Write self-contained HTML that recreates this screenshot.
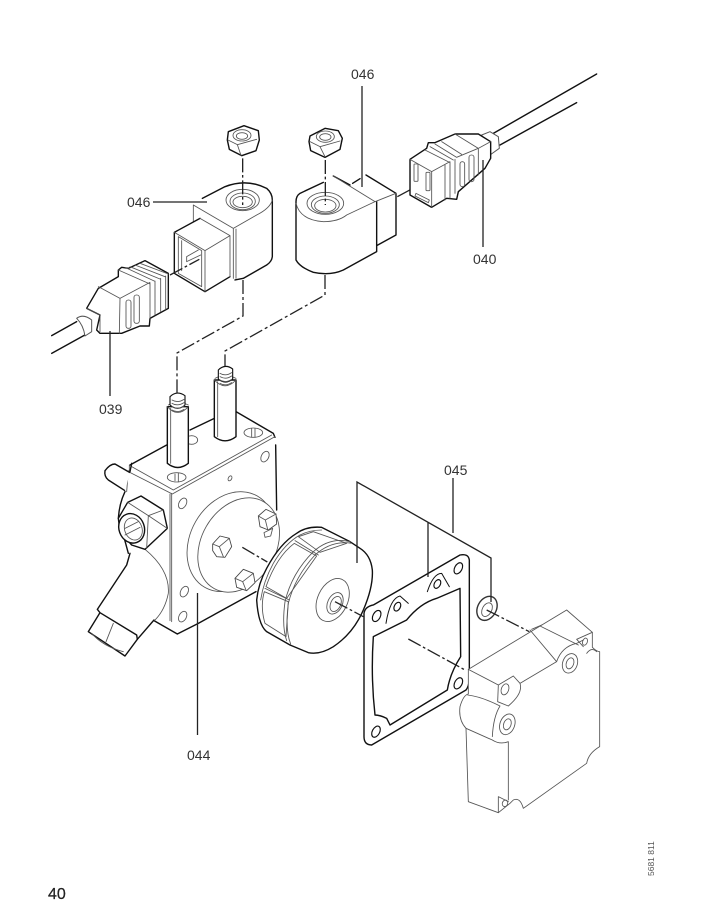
<!DOCTYPE html>
<html><head><meta charset="utf-8">
<style>
html,body{margin:0;padding:0;background:#fff;width:705px;height:913px;overflow:hidden}
svg{display:block}
.art{filter:blur(.25px)}
.k{fill:none;stroke:#111;stroke-width:4.2;stroke-linejoin:round;stroke-linecap:round}
.w{fill:#fff;stroke:#111;stroke-width:4.2;stroke-linejoin:round}
.t{fill:none;stroke:#555;stroke-width:2.6;stroke-linejoin:round;stroke-linecap:round}
.tw{fill:#fff;stroke:#555;stroke-width:2.6;stroke-linejoin:round}
.n{fill:#fff;stroke:none}
.l{fill:none;stroke:#222;stroke-width:1.3}
.a{fill:none;stroke:#222;stroke-width:1.3;stroke-dasharray:14 3 3 3}
.z{fill:none;stroke:#222;stroke-width:4;stroke-dasharray:42 8 8 8}
text{font-family:"Liberation Sans",sans-serif;font-size:14px;fill:#333}
</style></head><body>
<svg width="705" height="913" viewBox="0 0 705 913" xmlns="http://www.w3.org/2000/svg">
<g class="art">
<!-- LEFT SOLENOID -->
<g transform="translate(40 60) scale(.33333)">
<path class="w" d="M565 215L612 197L655 212L658 240L648 272L605 287L568 268L562 240Z"/>
<ellipse class="t" cx="606" cy="226" rx="27" ry="17"/><ellipse class="t" cx="606" cy="228" rx="17" ry="10"/>
<path class="t" d="M564 240L592 254L650 238M592 254L603 286"/>
<path class="n" d="M460 435L555 380Q620 355 680 385Q697 400 697 420V590L680 615L590 660L403 640V517L460 490Z"/>
<path class="k" d="M487 415L555 380Q620 355 680 385Q697 400 697 420V590Q695 605 680 615L610 655L585 660"/>
<path class="t" d="M460 435V490M460 435L580 505V655M588 507V655M580 505L650 465Q690 445 697 420"/>
<ellipse class="t" cx="608" cy="420" rx="50" ry="32"/><ellipse class="t" cx="608" cy="424" rx="38" ry="25"/><ellipse class="t" cx="608" cy="426" rx="29" ry="17"/>
<path class="n" d="M403 517L480 475L570 527V650L495 695L403 640Z"/>
<path class="k" d="M403 640V517L480 475M403 640L495 695L570 650"/>
<path class="t" d="M403 517L495 572V695M495 572L570 527M480 475L570 527V650M415 530L485 572V680L415 640ZM425 542V632"/>
<path class="t" d="M440 590L475 570M440 605L482 585M440 590V605"/>
<path class="z" d="M608 295V435"/>
<path class="z" d="M390 645L478 598"/>
</g>
<!-- LEFT PLUG -->
<g transform="translate(50 250) scale(.33333)">
<path class="k" d="M5 257L80 215M5 310L110 252"/>
<path class="w" style="stroke:#555;stroke-width:3" d="M80 205Q100 190 125 210V245L105 258Q100 225 80 205Z"/>
<path class="w" d="M110 175L145 115L205 80V60L215 52L235 55L285 32L355 70V175L300 205L298 228H270L215 250H150L140 240L150 195Z"/>
<path class="t" d="M145 110L210 145L208 250M110 175L150 195V245M210 145L300 97M205 60L300 102M225 52L315 94M240 50L330 87M255 45L345 80M270 40L355 72M300 100V205M315 93V195M332 85V185M347 78V178"/>
<rect class="t" x="228" y="150" width="15" height="85" rx="7"/><rect class="t" x="252" y="135" width="16" height="85" rx="7"/>
</g>
<!-- RIGHT SOLENOID -->
<g transform="translate(280 60) scale(.33333)">
<path class="w" d="M90 228L135 205L175 212L187 235L180 268L135 292L92 272L87 245Z"/>
<ellipse class="t" cx="136" cy="230" rx="27" ry="17"/><ellipse class="t" cx="136" cy="231" rx="17" ry="10"/>
<path class="t" d="M90 245L120 260L180 243M120 260L135 290"/>
<path class="n" d="M48 420L160 348L210 375L258 345L348 400V525L290 575L190 630Q100 660 48 600Z"/>
<path class="k" d="M130 367L60 400Q48 408 48 425V600Q60 622 100 637Q150 648 190 630L290 575V425M160 348L210 375M218 370L240 356M258 345L348 400V525L290 557"/>
<path class="t" d="M160 348L285 425L348 400M48 430Q60 480 130 485Q175 485 200 465L285 425"/>
<ellipse class="t" cx="136" cy="430" rx="55" ry="33"/><ellipse class="t" cx="136" cy="434" rx="42" ry="26"/><ellipse class="t" cx="136" cy="437" rx="32" ry="19"/>
<path class="z" d="M136 300V435"/>
<path class="z" d="M352 410L430 368"/>
</g>
<!-- RIGHT PLUG -->
<g transform="translate(400 120) scale(.33333)">
<path class="k" d="M280 40L590 -138M300 75L530 -52"/>
<path class="w" style="stroke:#555;stroke-width:3" d="M245 45L270 35L295 50L298 85L270 105Z"/>
<path class="w" d="M30 118L80 85L85 68H105L165 42H235L272 65V115L255 145L175 215L170 238L140 235L95 262L30 225Z"/>
<path class="t" d="M30 118L95 155V262M95 155L150 125M75 90L150 128M90 80L160 120M105 72L170 112M125 65L185 103M165 42L235 85V165M235 85L272 65M170 112L235 85M150 125V235M135 135V240M165 118V220"/>
<rect class="t" x="42" y="132" width="12" height="52" rx="2"/><rect class="t" x="78" y="157" width="12" height="55" rx="2"/>
<path class="t" d="M48 220L88 240L85 248L45 228Z"/>
<rect class="t" x="180" y="125" width="14" height="75" rx="7"/><rect class="t" x="207" y="105" width="15" height="80" rx="7"/>
</g>
<!-- PUMP -->
<g transform="translate(80 350) scale(.33333)">
<path class="n" d="M150 345L468 185L585 255L590 480L355 820L292 852L222 812L140 425Z"/>
<path class="k" d="M150 345L260 285M330 240L403 205M468 185L580 250L585 262M587 285L590 480M355 820L528 725M222 812L292 852L355 820"/>
<path class="t" d="M145 365L277 432L585 260M155 350L280 420L575 255M275 430V815M145 362L140 425M148 345V365M270 432V812"/>
<ellipse class="t" cx="290" cy="382" rx="28" ry="14"/><path class="t" d="M285 372V392M295 370V394"/>
<ellipse class="t" cx="335" cy="270" rx="18" ry="13"/>
<ellipse class="t" cx="520" cy="248" rx="28" ry="14"/><path class="t" d="M515 236V260M525 236V260"/>
<ellipse class="t" cx="555" cy="320" rx="11" ry="17" transform="rotate(28 555 320)"/>
<ellipse class="t" cx="308" cy="460" rx="11" ry="17" transform="rotate(28 308 460)"/>
<ellipse class="t" cx="450" cy="385" rx="5" ry="8" transform="rotate(28 450 385)"/>
<ellipse class="t" cx="313" cy="725" rx="11" ry="17" transform="rotate(28 313 725)"/>
<ellipse class="t" cx="308" cy="800" rx="11" ry="17" transform="rotate(28 308 800)"/>
<ellipse class="tw" cx="453" cy="575" rx="122" ry="158" transform="rotate(30 453 575)"/>
<ellipse class="tw" cx="476" cy="585" rx="112" ry="150" transform="rotate(30 476 585)"/>
<path class="tw" style="stroke:#444" d="M398 582L420 558L448 565L455 590L435 622L410 620L398 602Z"/>
<path class="t" d="M398 582L418 590L448 565M418 590L430 620"/>
<path class="tw" style="stroke:#444" d="M535 498L558 478L588 492L590 522L565 540L540 530Z"/>
<path class="t" d="M535 498L556 510L588 492M556 510L563 538M552 548L578 535L572 558L555 562Z"/>
<path class="tw" style="stroke:#444" d="M465 685L490 658L520 670L525 698L500 722L470 712Z"/>
<path class="t" d="M465 685L488 695L520 670M488 695L498 720"/>
<path class="z" d="M487 592L562 636"/>
<!-- stub -->
<path class="w" d="M150 368L105 342Q90 342 75 362Q72 380 85 390L135 422"/>
<path class="k" d="M155 340L150 365M135 425Q118 460 115 505M132 562L145 610"/>
<!-- elbow -->
<path class="n" d="M150 610L52 778L172 868L225 810L265 730Q270 660 195 598Z"/>
<path class="k" d="M150 610L140 645L52 778M172 868L222 810"/>
<path class="t" d="M195 598Q270 660 265 730Q255 780 225 810"/>
<path class="w" d="M52 778L60 788L170 855L172 868L135 918L25 845L60 788"/>
<path class="t" d="M100 820L78 875M35 850Q70 890 130 905"/>
<!-- nut -->
<path class="w" d="M143 457L183 438L250 480L262 535L195 598L155 585L120 545L115 505Z"/>
<path class="t" d="M143 457L205 497L250 480M205 497L262 535M205 497L200 595"/>
<ellipse class="w" cx="155" cy="535" rx="38" ry="45" transform="rotate(-20 155 535)"/>
<ellipse class="t" cx="160" cy="537" rx="26" ry="34" transform="rotate(-20 160 537)"/>
<path class="t" d="M135 535L175 515M135 555L180 532"/>
</g>
<!-- STUDS -->
<g transform="translate(160 355) scale(.33333)">
<path class="w" d="M22 155H85V325Q53 350 22 325Z"/>
<path class="t" d="M32 160V325M22 155Q53 190 85 155M25 150Q53 135 85 150"/>
<path class="w" d="M30 150V125Q50 105 75 122V150Q53 170 30 150Z" style="stroke-width:3.4"/>
<path class="t" d="M36 135Q53 145 72 133M36 145Q53 155 72 143M36 155Q53 165 72 153M36 165Q53 175 72 163"/>
<path class="w" d="M163 75H228V245Q195 270 163 245Z"/>
<path class="t" d="M173 80V245M163 75Q195 110 228 75M165 70Q195 55 228 70"/>
<path class="w" d="M175 72V45Q195 25 218 42V72Q195 90 175 72Z" style="stroke-width:3.4"/>
<path class="t" d="M180 55Q197 65 215 53M180 65Q197 75 215 63M180 75Q197 85 215 73M180 85Q197 95 215 83"/>
</g>
<!-- FILTER WHEEL -->
<g transform="translate(250 520) scale(.33333)">
<path class="w" d="M20 240Q25 190 50 145Q90 70 140 40Q170 18 215 22L300 65L330 85Q362 105 367 150Q370 200 340 270Q310 340 250 380Q210 405 175 398L120 375L50 335Q25 315 20 240Z"/>
<path class="t" d="M122 372Q105 330 115 250Q135 170 195 105Q245 60 305 70M110 362Q95 320 105 245Q125 160 190 95Q240 50 300 65M32 240Q40 185 70 130Q105 70 150 45Q180 30 215 30"/>
<path class="t" d="M145 50L190 35L290 70L210 97ZM135 62L205 105M133 70L200 108L110 235L48 200Q80 110 133 70ZM45 205L118 240M43 215L115 245L108 350L45 310Q30 260 43 215Z"/>
<ellipse class="t" cx="248" cy="240" rx="45" ry="68" transform="rotate(25 248 240)"/>
<ellipse class="t" cx="255" cy="250" rx="22" ry="34" transform="rotate(25 255 250)"/>
<ellipse class="t" cx="257" cy="252" rx="15" ry="24" transform="rotate(25 257 252)"/>
<path class="z" d="M255 245L340 290"/>
</g>
<!-- GASKET -->
<g transform="translate(340 460) scale(.33333)">
<path class="w" fill-rule="evenodd" d="M100 435L360 285Q385 280 388 300V650Q388 678 378 690L95 855Q72 855 72 830V460Q75 440 100 435ZM100 530L200 480Q240 430 290 415L360 385L362 590Q330 640 322 690L150 795L140 775Q120 765 105 765Q92 650 100 530Z"/>
<ellipse class="t" cx="110" cy="468" rx="11" ry="18" transform="rotate(28 110 468)" style="stroke:#111;stroke-width:3.5"/>
<ellipse class="t" cx="355" cy="325" rx="11" ry="18" transform="rotate(28 355 325)" style="stroke:#111;stroke-width:3.5"/>
<ellipse class="t" cx="355" cy="670" rx="11" ry="18" transform="rotate(28 355 670)" style="stroke:#111;stroke-width:3.5"/>
<ellipse class="t" cx="108" cy="815" rx="11" ry="18" transform="rotate(28 108 815)" style="stroke:#111;stroke-width:3.5"/>
<ellipse class="t" cx="172" cy="440" rx="9" ry="14" transform="rotate(28 172 440)" style="stroke:#111;stroke-width:3.5"/>
<ellipse class="t" cx="292" cy="372" rx="9" ry="14" transform="rotate(28 292 372)" style="stroke:#111;stroke-width:3.5"/>
<path class="k" style="stroke-width:3" d="M138 490Q150 415 180 408L205 430M262 395Q280 340 305 340L328 380"/>
<ellipse class="w" cx="441" cy="445" rx="28" ry="38" transform="rotate(28 441 445)" style="stroke:#333"/>
<ellipse class="t" cx="441" cy="449" rx="14" ry="22" transform="rotate(28 441 449)"/>
<path class="z" d="M440 450L568 515"/>
<path class="z" d="M205 537L375 630"/>
</g>
<!-- COVER -->
<g transform="translate(455 600) scale(.33333)">
<path class="tw" d="M40 208L335 30L412 97V142Q425 155 434 155V440Q400 460 395 490L205 625Q195 590 175 600L165 610L130 638L40 605L33 385Q10 360 15 320Q25 285 40 282Z"/>
<path class="t" d="M40 208L130 255L128 305L160 318M130 255L175 228L195 250Q205 280 160 318M195 250L305 185Q320 140 365 130L385 120M225 90L305 185M255 78L370 135M230 88L260 75M365 118L412 97M385 140L365 118M395 160Q410 140 425 155M38 285Q80 290 135 318Q115 350 112 410M33 385L112 420Q135 435 160 425V600M130 590V638M130 590L160 605"/>
<ellipse class="t" cx="157" cy="373" rx="22" ry="32" transform="rotate(20 157 373)"/><ellipse class="t" cx="157" cy="373" rx="11" ry="17" transform="rotate(20 157 373)"/>
<ellipse class="t" cx="345" cy="190" rx="22" ry="30" transform="rotate(20 345 190)"/><ellipse class="t" cx="345" cy="190" rx="11" ry="17" transform="rotate(20 345 190)"/>
<ellipse class="t" cx="150" cy="268" rx="11" ry="17" transform="rotate(20 150 268)"/>
<ellipse class="t" cx="390" cy="125" rx="7" ry="11" transform="rotate(20 390 125)"/>
<ellipse class="t" cx="150" cy="610" rx="8" ry="10" transform="rotate(20 150 610)"/>
</g>
<!-- DASHED AXES -->
<path class="a" d="M243 280V316L177 353V395"/>
<path class="a" d="M325 275V295L225 351V366"/>
<!-- LEADERS -->
<path class="l" d="M153 202H207"/>
<path class="l" d="M362 86V187"/>
<path class="l" d="M483 160V247"/>
<path class="l" d="M110 331V396"/>
<path class="l" d="M197.5 593V735"/>
<path class="l" d="M453 478V533M357 563V482L491 558V602M428 522V577"/>
</g>
<text x="127" y="207">046</text>
<text x="351" y="79">046</text>
<text x="473" y="264">040</text>
<text x="99" y="414">039</text>
<text x="444" y="475">045</text>
<text x="187" y="760">044</text>
<text x="48" y="899" style="font-size:16px;fill:#222;stroke:#222;stroke-width:.25">40</text>
<text transform="translate(654 876) rotate(-90)" style="font-size:8.5px;fill:#555">5681 811</text>
</svg>
</body></html>
